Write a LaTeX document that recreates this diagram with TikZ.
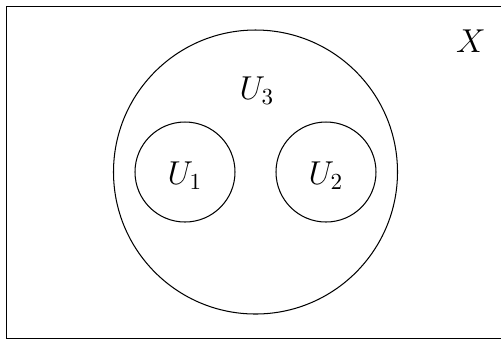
\documentclass[tikz,border=0pt]{standalone}
\begin{document}
\begin{tikzpicture}[x=0.4348pt,y=-0.4348pt,
  setc/.style={draw,circle,inner sep=0pt,line width=0.45pt},
  lbl/.style={inner sep=0pt,font=\Large}]
\useasboundingbox (0,0) rectangle (501,339);
\clip (0,0) rectangle (501,339);
\node[draw,line width=0.45pt,minimum width=500*0.4348pt,minimum height=332*0.4348pt,inner sep=0pt] (X) at (256.5,172.5) {};
\node[setc,minimum size=284*0.4348pt] (U3) at (255.5,172) {};
\node[setc,minimum size=100*0.4348pt] (U1) at (185,172) {};
\node[setc,minimum size=100*0.4348pt] (U2) at (326,172) {};
\node[lbl] (lU3) at (257,91) {$U_3$};
\node[lbl] (lU1) at (185,176) {$U_1$};
\node[lbl] (lU2) at (326,176) {$U_2$};
\node[lbl] (lX) at (471,41) {$X$};
\end{tikzpicture}
\end{document}
